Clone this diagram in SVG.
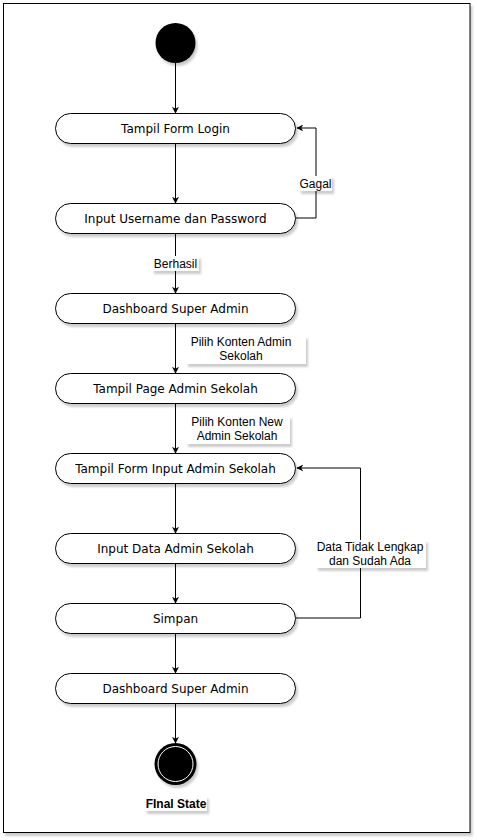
<svg xmlns="http://www.w3.org/2000/svg" width="477" height="840" viewBox="0 0 477 840">
<defs>
<filter id="sh" x="-10%" y="-20%" width="130%" height="160%">
<feDropShadow dx="2" dy="3" stdDeviation="1" flood-color="#000" flood-opacity="0.2"/>
</filter>
<marker id="arr" viewBox="0 0 10 10" refX="9" refY="5" markerWidth="7" markerHeight="7" orient="auto" markerUnits="userSpaceOnUse">
<path d="M0,0 L10,5 L0,10 L3,5 Z" fill="#000"/>
</marker>
<style>
.node rect{fill:#fff;stroke:#000;stroke-width:1}
.node text{font-family:"DejaVu Sans",Verdana,sans-serif;font-size:12px;fill:#000;text-anchor:middle;dominant-baseline:central}
.edge{fill:none;stroke:#000;stroke-width:1;marker-end:url(#arr)}
.lbl rect{fill:#fff;stroke:none}
.lbl text{font-family:"Liberation Sans",Arial,sans-serif;font-size:12px;fill:#000;text-anchor:middle;dominant-baseline:central}
</style>
</defs>
<rect id="frame" x="3.5" y="3.5" width="466.5" height="829" fill="#fff" stroke="#000" stroke-width="1" filter="url(#sh)"/>

<g id="connectors">
<path class="edge" d="M175.5,63 V113"/>
<path class="edge" d="M175.5,143 V203"/>
<path class="edge" d="M296,218 H316 V128 H297"/>
<path class="edge" d="M175.5,233 V293"/>
<path class="edge" d="M175.5,323 V373"/>
<path class="edge" d="M175.5,403 V453"/>
<path class="edge" d="M175.5,483 V533"/>
<path class="edge" d="M175.5,563 V603"/>
<path class="edge" d="M296,618 H360.5 V468 H297"/>
<path class="edge" d="M175.5,633 V673"/>
<path class="edge" d="M175.5,703 V743"/>
</g>

<g id="start">
<circle cx="175.5" cy="43" r="20" fill="#000" filter="url(#sh)"/>
</g>

<g id="n1" class="node"><rect x="55.5" y="113.5" width="240" height="30" rx="15" filter="url(#sh)"/><text x="175.5" y="128.5">Tampil Form Login</text></g>
<g id="n2" class="node"><rect x="55.5" y="203.5" width="240" height="30" rx="15" filter="url(#sh)"/><text x="175.5" y="218.5">Input Username dan Password</text></g>
<g id="n3" class="node"><rect x="55.5" y="293.5" width="240" height="30" rx="15" filter="url(#sh)"/><text x="175.5" y="308.5">Dashboard Super Admin</text></g>
<g id="n4" class="node"><rect x="55.5" y="373.5" width="240" height="30" rx="15" filter="url(#sh)"/><text x="175.5" y="388.5">Tampil Page Admin Sekolah</text></g>
<g id="n5" class="node"><rect x="55.5" y="453.5" width="240" height="30" rx="15" filter="url(#sh)"/><text x="175.5" y="468.5">Tampil Form Input Admin Sekolah</text></g>
<g id="n6" class="node"><rect x="55.5" y="533.5" width="240" height="30" rx="15" filter="url(#sh)"/><text x="175.5" y="548.5">Input Data Admin Sekolah</text></g>
<g id="n7" class="node"><rect x="55.5" y="603.5" width="240" height="30" rx="15" filter="url(#sh)"/><text x="175.5" y="618.5">Simpan</text></g>
<g id="n8" class="node"><rect x="55.5" y="673.5" width="240" height="30" rx="15" filter="url(#sh)"/><text x="175.5" y="688.5">Dashboard Super Admin</text></g>

<g id="final">
<circle cx="175.5" cy="764" r="21" fill="#000" filter="url(#sh)"/>
<circle cx="175.5" cy="764" r="17.5" fill="#000" stroke="#fff" stroke-width="1"/>
<g class="lbl"><rect x="145" y="796" width="62" height="15" filter="url(#sh)"/>
<text x="176" y="803.5" style="font-weight:bold">FInal State</text></g>
</g>

<g id="labels">
<g class="lbl"><rect x="299" y="176" width="33" height="15" filter="url(#sh)"/><text x="315.5" y="184">Gagal</text></g>
<g class="lbl"><rect x="152" y="256" width="47" height="15" filter="url(#sh)"/><text x="175.5" y="264">Berhasil</text></g>
<g class="lbl"><rect x="186" y="336" width="120" height="28" filter="url(#sh)"/><text x="241" y="342">Pilih Konten Admin</text><text x="241" y="356">Sekolah</text></g>
<g class="lbl"><rect x="186" y="416" width="104" height="28" filter="url(#sh)"/><text x="237" y="422">Pilih Konten New</text><text x="237" y="436">Admin Sekolah</text></g>
<g class="lbl"><rect x="316" y="540" width="110" height="28" filter="url(#sh)"/><text x="370" y="547">Data Tidak Lengkap</text><text x="370" y="561">dan Sudah Ada</text></g>
</g>
</svg>
